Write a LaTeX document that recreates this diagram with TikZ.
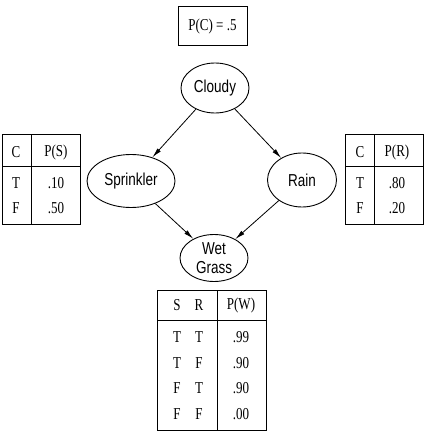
\documentclass[tikz,border=0pt]{standalone}
\usepackage{graphicx}
\usepackage{fontspec}
\setmainfont{Liberation Serif}
\newfontfamily\nodefont{Liberation Sans}
\newcommand{\tall}[1]{\scalebox{1}[1.28]{#1}}
\usetikzlibrary{shapes.geometric,arrows.meta}

\begin{document}
\begin{tikzpicture}[x=1pt,y=-1pt,
    bnode/.style={draw, ellipse, line width=0.9pt, inner sep=0pt,
      font=\nodefont\fontsize{13.5}{18.5}\selectfont, align=center},
    cell/.style={font=\fontsize{13}{15}\selectfont, inner sep=0pt},
    tab/.style={line width=1pt},
    arr/.style={-{Latex[length=10pt,width=4.5pt]}, line width=0.8pt}]
        % Rahmen des Bildes
        \useasboundingbox (0,0) rectangle (429,435);

        % Knoten des Netzes
        \node[bnode, minimum width=68pt, minimum height=50pt] (cloudy) at (215,88) {\tall{Cloudy}};
        \node[bnode, minimum width=88pt, minimum height=53pt] (sprinkler) at (131,181) {\tall{Sprinkler}};
        \node[bnode, minimum width=69pt, minimum height=54pt] (rain) at (302,180) {\tall{Rain}};
        \node[bnode, minimum width=68pt, minimum height=47pt] (wet) at (214,258) {\tall{Wet}\\\tall{Grass}};

        \draw[arr] (cloudy) -- (sprinkler);
        \draw[arr] (cloudy) -- (rain);
        \draw[arr] (sprinkler) -- (wet);
        \draw[arr] (rain) -- (wet);

        % P(C)
        \node[cell, draw, line width=1pt, minimum width=69pt, minimum height=39pt] (pc) at (212.5,26.5) {\tall{P(C) = .5}};

        % Tabelle fuer Sprinkler
        \draw[tab] (2,135) rectangle (80,224);
        \draw[tab] (31,135) -- (31,224);
        \draw[tab] (2,167) -- (80,167);
        \node[cell] (sc) at (16,152) {\tall{C}};
        \node[cell] (sp) at (56,152) {\tall{P(S)}};
        \node[cell] (st) at (16,183) {\tall{T}};
        \node[cell] (stv) at (56,183) {\tall{.10}};
        \node[cell] (sf) at (16,208) {\tall{F}};
        \node[cell] (sfv) at (56,208) {\tall{.50}};

        % Tabelle fuer Rain
        \draw[tab] (345,135) rectangle (423,224);
        \draw[tab] (374,135) -- (374,224);
        \draw[tab] (345,167) -- (423,167);
        \node[cell] (rc) at (360,152) {\tall{C}};
        \node[cell] (rp) at (397,152) {\tall{P(R)}};
        \node[cell] (rt) at (360,183) {\tall{T}};
        \node[cell] (rtv) at (397,183) {\tall{.80}};
        \node[cell] (rf) at (360,208) {\tall{F}};
        \node[cell] (rfv) at (397,208) {\tall{.20}};

        % Tabelle fuer Wet Grass
        \draw[tab] (157,290) rectangle (266,430);
        \draw[tab] (217,290) -- (217,430);
        \draw[tab] (157,320) -- (266,320);
        \node[cell] (ws) at (177,305) {\tall{S}};
        \node[cell] (wr) at (199,305) {\tall{R}};
        \node[cell] (wp) at (241,305) {\tall{P(W)}};
        \node[cell] (ws1) at (177,337) {\tall{T}};
        \node[cell] (wr1) at (199,337) {\tall{T}};
        \node[cell] (wv1) at (241,337) {\tall{.99}};
        \node[cell] (ws2) at (177,363) {\tall{T}};
        \node[cell] (wr2) at (199,363) {\tall{F}};
        \node[cell] (wv2) at (241,363) {\tall{.90}};
        \node[cell] (ws3) at (177,388) {\tall{F}};
        \node[cell] (wr3) at (199,388) {\tall{T}};
        \node[cell] (wv3) at (241,388) {\tall{.90}};
        \node[cell] (ws4) at (177,414) {\tall{F}};
        \node[cell] (wr4) at (199,414) {\tall{F}};
        \node[cell] (wv4) at (241,414) {\tall{.00}};
    \end{tikzpicture}
\end{document}
